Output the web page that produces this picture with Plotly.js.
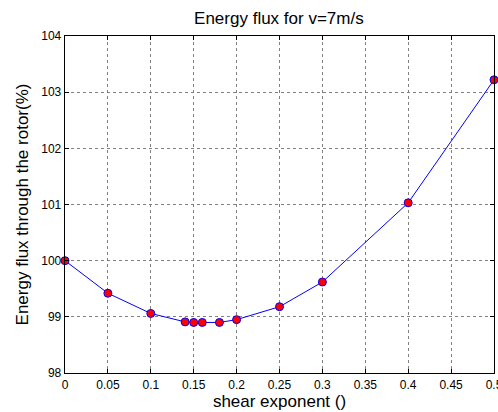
<!DOCTYPE html>
<html><head><meta charset="utf-8">
<script src="https://cdn.plot.ly/plotly-3.0.1.min.js"></script>
<style>html,body{margin:0;padding:0;background:#fff;overflow:hidden}</style>
</head><body><div id="chart" style="width:498px;height:412px"></div>
<script>
const shearExponent = [0, 0.05, 0.1, 0.14, 0.15, 0.16, 0.18, 0.2, 0.25, 0.3, 0.4, 0.5];
const energyFlux = [100.0, 99.42, 99.06, 98.91, 98.90, 98.90, 98.90, 98.95, 99.18, 99.62, 101.03, 103.22];
const xTicks = [0, 0.05, 0.1, 0.15, 0.2, 0.25, 0.3, 0.35, 0.4, 0.45, 0.5];
const xTickText = ['0', '0.05', '0.1', '0.15', '0.2', '0.25', '0.3', '0.35', '0.4', '0.45', '0.5'];
const yTicks = [98, 99, 100, 101, 102, 103, 104];

const font = {family: 'Liberation Sans, Arial, sans-serif', color: '#000'};
const trace = {
  x: shearExponent, y: energyFlux, type: 'scatter', mode: 'lines+markers',
  line: {color: '#0000ff', width: 1},
  marker: {color: '#ff0000', size: 8, line: {color: '#0000ff', width: 1}},
  cliponaxis: false
};
const axisCommon = {
  showline: true, mirror: 'ticks', linecolor: '#000', linewidth: 1.3,
  ticks: 'inside', ticklen: 4, tickcolor: '#000',
  showgrid: true, gridcolor: '#808080', griddash: 'dot', gridwidth: 1,
  zeroline: false, tickfont: Object.assign({size: 12}, font)
};
const layout = {
  width: 498, height: 412,
  margin: {l: 65, r: 4, t: 36, b: 39},
  paper_bgcolor: '#fff', plot_bgcolor: '#fff',
  showlegend: false,
  title: {text: 'Energy flux for v=7m/s', font: Object.assign({size: 17}, font), x: 0.56, xanchor: 'center', y: 0.955, yanchor: 'middle'},
  xaxis: Object.assign({}, axisCommon, {
    range: [0, 0.5], tickvals: xTicks, ticktext: xTickText, ticklabeloverflow: 'allow',
    title: {text: 'shear exponent ()', font: Object.assign({size: 17}, font), standoff: 2}
  }),
  yaxis: Object.assign({}, axisCommon, {
    range: [98, 104], tickvals: yTicks,
    title: {text: 'Energy flux through the rotor(%)', font: Object.assign({size: 17}, font), standoff: 8}
  })
};
Plotly.newPlot('chart', [trace], layout, {displayModeBar: false, staticPlot: true});
</script></body></html>
